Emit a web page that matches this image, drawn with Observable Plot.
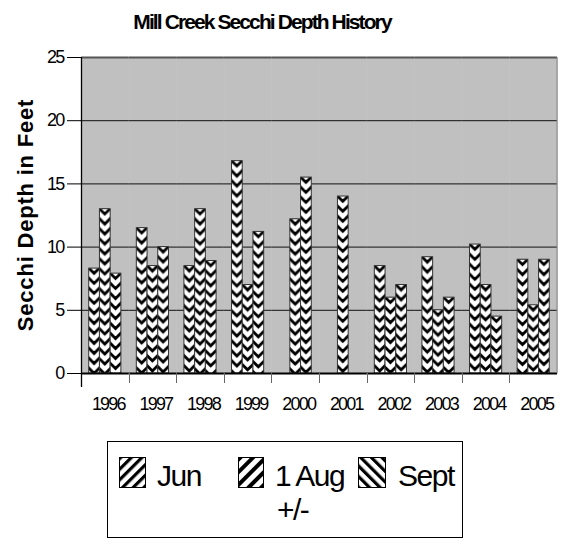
<!DOCTYPE html>
<html>
<head>
<meta charset="utf-8">
<script src="https://cdn.jsdelivr.net/npm/d3@7"></script>
<script src="https://cdn.jsdelivr.net/npm/@observablehq/plot@0.6"></script>
<style>
  body { margin: 0; background: white; font-family: "Liberation Sans", Arial, sans-serif; }
  #page { position: relative; width: 566px; height: 544px; overflow: hidden; }
  #title { height: 40px; box-sizing: border-box; padding-top: 11px; width: 524px; text-align: center;
           font-weight: bold; font-size: 21px; line-height: 21px; letter-spacing: -1.9px; }
  #chart svg { display: block; }
  .lg { position: absolute; }
  .lgtext { position: absolute; font-size: 30px; line-height: 30px; letter-spacing: -1.5px; white-space: nowrap; }
  #legendbox { position: absolute; left: 107px; top: 441px; width: 356px; height: 97px;
               border: 1px solid #000; box-sizing: border-box; }
</style>
</head>
<body>
<div id="page">
  <div id="title">Mill Creek Secchi Depth History</div>
  <div id="chart"></div>
  <div id="legendbox"></div>
  <svg class="lg" style="left:119px;top:457px" width="27" height="31">
    <defs>
      <pattern id="lgJun" patternUnits="userSpaceOnUse" width="7.5" height="7.5" patternTransform="rotate(45)">
        <rect width="7.5" height="7.5" fill="white"/><rect width="3.2" height="7.5" fill="black"/>
      </pattern>
      <pattern id="lgAug" patternUnits="userSpaceOnUse" width="9" height="9" patternTransform="rotate(45)">
        <rect width="9" height="9" fill="white"/><rect width="4" height="9" fill="black"/>
      </pattern>
      <pattern id="lgSep" patternUnits="userSpaceOnUse" width="7.5" height="7.5" patternTransform="rotate(-45)">
        <rect width="7.5" height="7.5" fill="white"/><rect width="3.2" height="7.5" fill="black"/>
      </pattern>
    </defs>
    <rect x="0.5" y="0.5" width="26" height="30" fill="url(#lgJun)" stroke="#000"/>
  </svg>
  <div class="lgtext" style="left:157px;top:461px">Jun</div>
  <svg class="lg" style="left:238px;top:457px" width="26" height="31">
    <rect x="0.5" y="0.5" width="25" height="30" fill="url(#lgAug)" stroke="#000"/>
  </svg>
  <div class="lgtext" style="left:275px;top:461px">1 Aug</div>
  <div class="lgtext" style="left:277px;top:495px">+/-</div>
  <svg class="lg" style="left:358px;top:457px" width="28" height="31">
    <rect x="0.5" y="0.5" width="27" height="30" fill="url(#lgSep)" stroke="#000"/>
  </svg>
  <div class="lgtext" style="left:398px;top:461px">Sept</div>
</div>
<script>
const years = [1996, 1997, 1998, 1999, 2000, 2001, 2002, 2003, 2004, 2005];
const months = ["Jun", "1 Aug +/-", "Sept"];
const jun  = [8.3, 11.5, 8.5, 16.8, null, null, 8.5, 9.2, 10.2, 9.0];
const aug  = [13.0, 8.5, 13.0, 7.0, 12.2, 14.0, 6.0, 5.0, 7.0, 5.4];
const sept = [7.9, 10.0, 8.9, 11.2, 15.5, null, 7.0, 6.0, 4.5, 9.0];
const yTicks = [0, 5, 10, 15, 20, 25];

const series = [jun, aug, sept];
const table = years.flatMap((yr, i) =>
  months.map((m, j) => ({year: yr, month: m, value: series[j][i]}))
        .filter(d => d.value != null));

const chart = Plot.plot({
  width: 566, height: 400,
  marginTop: 17, marginBottom: 67, marginLeft: 81, marginRight: 9,
  style: {fontFamily: "'Liberation Sans', Arial, sans-serif", fontSize: "18px",
          letterSpacing: "-1.8px", background: "white", color: "#000", overflow: "visible"},
  fx: {domain: years, paddingInner: 0, paddingOuter: 0, round: false, axis: null, label: null},
  x: {domain: months, paddingInner: 0, paddingOuter: 0.72, round: false, axis: null},
  y: {domain: [0, 25], ticks: yTicks, tickSize: 14, tickPadding: 4, label: null},
  marks: [
    Plot.frame({fill: "#c0c0c0", stroke: "#c0c0c0", strokeWidth: 0.6}),
    Plot.ruleY(yTicks.slice(1, -1), {stroke: "#111", strokeWidth: 1}),
    Plot.barY(table, {fx: "year", x: "month", y: "value", fill: "url(#chev)", stroke: "#333", strokeWidth: 1}),
    Plot.ruleY([25], {stroke: "#555", strokeWidth: 2}),
    Plot.ruleY([0], {stroke: "#000", strokeWidth: 2}),
    Plot.axisFx({anchor: "bottom", tickSize: 0, tickPadding: 24, dx: 3, label: null, tickFormat: d => String(d)})
  ]
});
document.getElementById("chart").appendChild(chart);

// decorations derived from scales
const svg = d3.select(chart);
const fx = chart.scale("fx"), y = chart.scale("y"), xs = chart.scale("x");
const w = xs.bandwidth;
const defs = svg.insert("defs", ":first-child");
const pat = defs.append("pattern").attr("id", "chev")
  .attr("patternUnits", "objectBoundingBox").attr("width", 1).attr("height", 1);
pat.append("rect").attr("width", w + 2).attr("height", 600).attr("fill", "white");
const P = 10;
let dpath = "";
for (let k = -2; k < 60; k++) {
  const yy = k * P;
  dpath += `M${-1},${yy - 1} L${w / 2},${yy + w / 2} L${w + 1},${yy - 1} `;
}
pat.append("path").attr("d", dpath).attr("fill", "none").attr("stroke", "#000").attr("stroke-width", 2.8);

const y0 = y.apply(0), yTop = y.apply(25);
const deco = svg.append("g");
years.forEach(yr => {
  const xx = Math.round(fx.apply(yr)) + 0.5;
  deco.append("line").attr("x1", xx).attr("x2", xx).attr("y1", y0).attr("y2", y0 + 10)
    .attr("stroke", "#666").attr("stroke-width", 1);
});
const xl = Math.round(fx.apply(years[0])) + 0.5;
deco.append("line").attr("x1", xl).attr("x2", xl).attr("y1", yTop).attr("y2", y0 + 14)
  .attr("stroke", "#000").attr("stroke-width", 1.3);
const xr = fx.apply(years[years.length - 1]) + fx.bandwidth;
deco.append("line").attr("x1", xr).attr("x2", xr).attr("y1", yTop).attr("y2", y0)
  .attr("stroke", "#888").attr("stroke-width", 1);
svg.append("text")
  .attr("transform", `translate(33,${(y0 + yTop) / 2}) rotate(-90)`)
  .attr("text-anchor", "middle")
  .style("font-weight", "bold").style("font-size", "22px").style("letter-spacing", "0.8px")
  .text("Secchi Depth in Feet");
</script>
</body>
</html>
